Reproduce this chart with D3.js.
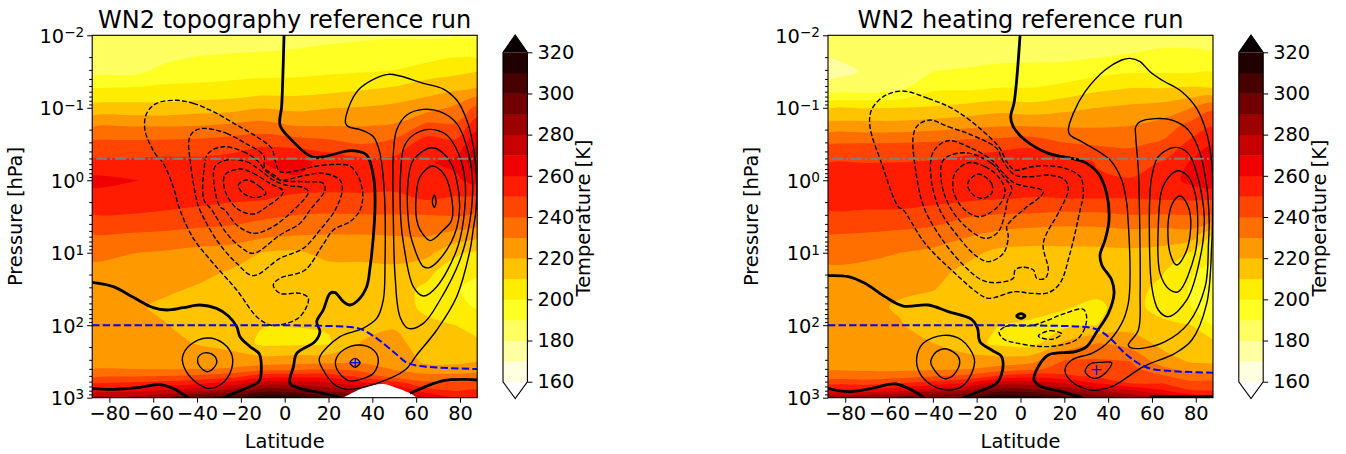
<!DOCTYPE html>
<html>
<head>
<meta charset="utf-8">
<script src="https://d3js.org/d3.v7.min.js"></script>
<style>
  body { margin: 0; background: #fff; }
  text { font-family: "DejaVu Sans", sans-serif; fill: #000; }
</style>
</head>
<body>
<svg width="1346" height="454"></svg>
<script>
// grid the temperature was read on
var latGrid = [-88, -70, -55, -40, -25, -10, 5, 20, 35, 50, 65, 78, 88];
var logpGrid = [-2, -1.75, -1.5, -1.25, -1, -0.75, -0.5, -0.25, 0, 0.25, 0.5, 0.75, 1, 1.25, 1.5, 1.75, 2, 2.25, 2.5, 2.6, 2.7, 2.8, 2.9, 3];

// temperature [K], one row per latitude, bottom of the list = 1000 hPa
var tempTopo = [
  [182,184,186,201.5,213,229,243,252,263,256,249,239.5,232,228,226,225,225,226,228,229.5,237,250,264,283],
  [182.5,184,187,202,213.5,229.5,243,252,260.5,255.5,249,239,230.3,226,223,222,222,223,226,229.5,239,251.7,267,283],
  [183,186,193,203,213,229.5,243.5,253,258,254,248,238,229,225.5,221.8,218,220.6,223.5,227,229,240,253.5,270.8,288],
  [184,189,195,203,215,230,244,252.5,257,252.5,247,236,227,223,219,216,216,219.5,226,229.5,241.7,258,276,302],
  [185,190,196,204,216,232,245.7,254,257,251.5,245,235,226,219.5,216,214,214,216,226,230.7,245.3,263.8,283,305],
  [186,190.5,197,205.5,219.5,234,248,260,259,251,241.6,232.7,219.5,217,215,213,210.4,208,225,235,254.6,275,296,316],
  [186,191.3,197,206,217.5,230,246,262.5,259,247,239.4,230.6,218.5,216,214.5,212.5,210.3,208,226.5,236,256,275,294,314],
  [187,193,198.5,207.5,219.5,230,243.5,257.5,256,247,238.6,230,222.7,217,214.5,212.5,211,209,226.7,238.5,255.3,271.7,287,304],
  [188,194,199.5,209.5,220.5,229.7,240,253.5,253.5,248.5,238.8,230,223,217,215,214,216,220.5,228,236,246,263,281,300],
  [189,194.5,200.5,212,222.5,231,244,253,253.5,248,239,230.5,223.5,218,214,214,219,223,227,229,235,255,272,290],
  [188.5,195,205,216.5,225.5,243,255,259,258,251,239,231,222.8,213,208,208,212,215,218,223,233,242,254,271],
  [190,198,207.5,219,232,241.5,253,262.5,258,249,240,227,212,204,200.5,203,210,214,218,223,233,242,249,260],
  [188,196,210,221,242.7,256.6,269,277,264.5,246.7,238,224,207.7,201,198,199,206,212,220,226,233,242,252,259]
];

var tempHeat = [
  [183,181,176.5,184,209,223.5,240.3,249.5,257.7,254,248,240,233.5,228,225.5,224.5,224,225,226.5,228.5,234,246.5,261,286],
  [184,184,181,186,209.5,224,240.7,249.7,257,254,247.5,239,232.5,227,224.5,223,223,224,226,228,234,246.7,263,291],
  [184.5,185,184,188.5,210,224,241,250,256,253,248,237,230,225.5,222,218.5,221,223,226,227.5,235.5,250,268,294],
  [184.5,186.5,190,199,211,225.5,242,251,256,252.5,246,235,228,223,220.5,215,214,220,226.5,228,239,255,276,301],
  [185,186.5,191,199.5,213,227.5,244.5,253,256,252,240.6,231.5,223,218,215.5,213,212,214,225,229,242,260,281,303],
  [185.5,187.5,192,201,216,229.5,245,257.5,257,250.5,238.5,227.5,217.5,214.5,213,212,210,208,225,233,251,275,296,318],
  [186,187.5,192.5,201,214,229.5,247,260,256,249.5,238,225,217,215,213.5,212,209,206,227.5,237,256,275.5,294,315],
  [185,187,193.5,204,217,229,241,254.5,255,250,236.5,224.5,217.5,215,213,210.5,207.5,221.5,241,245,251.5,270,287,304],
  [186,188,196.5,208.5,220,229,239,249.5,251,250,237,225,217.5,215,212,208.5,210,230,241.5,245,248,260,279,297],
  [187,190,199,211,222,230,238,247,250.5,250,239,226,218,215.5,214,213.5,216,226,240,243,246.5,250,271,289],
  [187.5,191,199,211,224,234,242,250.5,255,251,238.5,225,217,211,207,206,212.5,217,225,232.5,241,250,261,281],
  [187.5,191,199,212,230,244,253,261,263,251.5,239,226,209,201,199,200,210,216,219,225,234,243,250.5,268],
  [187,190.5,199.5,211,238,249.5,259.5,269.5,267,251,238,209.5,203,197,191,189,199,213,218.5,223,233,243.5,250,264]
];

// colour bar
var levels = [160,170,180,190,200,210,220,230,240,250,260,270,280,290,300,310,320];
var levelTicks = [160,180,200,220,240,260,280,300,320];
var bandColors = ["#ffffe0","#ffffa1","#ffff62","#ffff23","#ffed00","#ffc300","#ff9900","#ff6f00","#ff4500","#ff1c00","#f10000","#c70000","#9d0000","#730000","#490000","#200000"];
var underColor = "#ffffff";
var overColor = "#0b0000";

var latTicks = [-80,-60,-40,-20,0,20,40,60,80];
var pressureDecades = [-2,-1,0,1,2,3];

// surface pressure mask of the topography run: latitude, log10 hPa
var topoLat = [26.8, 34.4, 40.5, 45, 49.6, 57.2, 60.2];
var topoLogp = [3, 2.885, 2.825, 2.811, 2.848, 2.94, 3];

// streamfunction contours, [lat, log10 p]
var zeroTopo = [
  [[-0.3,-2],[-0.9,-1.383],[-1.4,-1.015],[-2.15,-0.762],[2.4,-0.578],[12.3,-0.325],[17.6,-0.325],[30.6,-0.408],[37.4,-0.348],[40.5,-0.049],[41.2,0.181],[41,0.549],[39,1.192],[37.4,1.468],[33.6,1.652],[29.8,1.721],[26.8,1.675],[23,1.551],[20.7,1.56],[17.6,1.79],[14.6,1.951],[16.1,2.089],[13.8,2.227],[5.5,2.388],[4,2.572],[2.4,2.802],[7,2.871],[16.1,2.931],[26,3]],
  [[-87.9,1.408],[-78.25,1.468],[-69.1,1.615],[-60,1.758],[-53.9,1.79],[-46.3,1.758],[-38.7,1.721],[-31.1,1.767],[-25.7,1.873],[-21.9,2.02],[-20.4,2.158],[-15.8,2.296],[-11.6,2.397],[-11.3,2.756],[-12.8,2.802],[-18.9,2.885],[-28,3]],
  [[-87.9,2.871],[-78.25,2.885],[-66.1,2.857],[-57,2.82],[-50.9,2.871],[-44.8,2.986],[-44,3]],
  [[57.2,2.94],[72.4,2.765],[83.1,2.747],[87.9,2.756]]
];

var posTopo = [
  [[27.8,-0.785],[29.05,-0.992],[33.6,-1.245],[40.5,-1.392],[47.3,-1.461],[52.6,-1.438],[63.3,-1.337],[72.4,-1.259],[78.5,-1.107],[83.1,-0.831],[86.1,-0.463],[87.6,-0.003],[87.3,0.41],[86,0.686],[84.6,0.962],[78.5,1.606],[69.4,2.066],[60.25,2.411],[54.9,2.618],[42,2.802],[28.3,2.885],[23,2.825],[17.6,2.618],[15.8,2.457],[25.25,2.158],[35.1,2.052],[42,1.905],[45,1.652],[45.8,1.1],[45.8,0.41],[45.3,0.089],[43.5,-0.371],[40.5,-0.601],[35.1,-0.693],[29.05,-0.739]],
  [[63.3,-0.978],[70.9,-0.946],[78.5,-0.785],[83.1,-0.463],[85.7,-0.003],[84.6,0.548],[80,1.1],[70.9,1.652],[63.3,1.974],[56.4,2.043],[52.6,1.882],[50.4,1.33],[49.6,0.548],[49.6,-0.371],[51.1,-0.693],[55.7,-0.9]],
  [[66.3,-0.702],[73.95,-0.624],[79.3,-0.371],[82.3,-0.003],[81.6,0.548],[78.5,0.962],[69.4,1.468],[63.3,1.597],[58.7,1.468],[54.2,0.87],[53,0.548],[53,-0.141],[54.5,-0.463],[58.7,-0.624]],
  [[67.1,-0.449],[73.95,-0.325],[78.5,-0.003],[79.3,0.549],[73.95,0.962],[66.3,1.201],[63.3,1.192],[58,0.824],[56.4,0.548],[56.4,-0.003],[58.7,-0.279]],
  [[67.4,-0.196],[72.4,-0.095],[75.5,0.135],[76.2,0.549],[72.4,0.686],[66.3,0.833],[61.8,0.686],[60.25,0.548],[60,0.227],[61.8,-0.049]],
  [[68.3,0.204],[69.1,0.296],[68.3,0.374],[67.4,0.296]],
  [[-35.3,2.176],[-28,2.25],[-23.9,2.434],[-25,2.664],[-29.5,2.825],[-34.9,2.871],[-41.7,2.756],[-46,2.572],[-46.6,2.434],[-43.2,2.273]],
  [[-35.6,2.379],[-31.8,2.434],[-31.1,2.526],[-34.9,2.641],[-38.7,2.572],[-39.8,2.48],[-38.7,2.411]],
  [[34.4,2.273],[40.5,2.342],[42.75,2.48],[40.5,2.664],[33.6,2.756],[29.05,2.765],[24,2.618],[23.3,2.48],[26.8,2.342]],
  [[32.1,2.457],[34.4,2.517],[32.1,2.581],[29.8,2.517]]
];

var negTopo = [
  [[-49.3,-1.103],[-41.7,-1.061],[-32.6,-0.946],[-21.9,-0.762],[-12.8,-0.601],[-5.96,-0.44],[-4.4,-0.279],[-2.15,-0.118],[5.5,-0.132],[13.07,-0.187],[23.7,-0.219],[29.8,-0.196],[33.6,-0.049],[35.6,0.181],[34.4,0.411],[29.8,0.571],[22.2,0.686],[16.9,0.916],[9.3,1.238],[-2.15,1.353],[-5.2,1.445],[-2.15,1.56],[7,1.56],[10.8,1.629],[7,1.882],[-2.15,1.997],[-6.7,1.997],[-12.8,1.882],[-21.9,1.514],[-32.6,1.146],[-41.7,0.801],[-47.8,0.41],[-50.9,0.089],[-55.4,-0.233],[-59.2,-0.371],[-63.8,-0.693],[-63,-0.923],[-58.5,-1.061]],
  [[-37.2,-0.716],[-26.5,-0.647],[-17.4,-0.5],[-9.8,-0.348],[-9,-0.164],[-3.7,-0.049],[-2.15,0],[8.5,-0.063],[17.6,-0.095],[25.25,-0.003],[26.3,0.135],[23,0.411],[16.1,0.686],[8.5,0.939],[-2.15,1.077],[-14.3,1.316],[-21.9,1.146],[-31.1,0.824],[-38.7,0.41],[-40.2,0.272],[-43.2,-0.279],[-43.7,-0.555],[-41.7,-0.67]],
  [[-28,-0.463],[-18.9,-0.394],[-12.8,-0.279],[-8.2,-0.118],[-2.15,-0.003],[8.5,0.02],[17.6,0.043],[18.4,0.135],[11.55,0.411],[7,0.594],[-2.15,0.755],[-14.3,1.008],[-20.4,0.916],[-26.5,0.732],[-33.3,0.41],[-36.85,0.272],[-36.85,-0.141],[-34.9,-0.371]],
  [[-26.5,-0.279],[-17.4,-0.256],[-11.3,-0.141],[-5.2,-0.003],[2.4,0.08],[7,0.089],[10.8,0.158],[2.4,0.457],[-6.7,0.663],[-14.3,0.732],[-21.9,0.617],[-27.3,0.41],[-29.5,0.365],[-32.1,0.089],[-31.8,-0.187]],
  [[-20.4,-0.155],[-14.3,-0.095],[-6.7,0.043],[-0.6,0.158],[-8.2,0.365],[-14.3,0.466],[-21.9,0.388],[-27.3,0.135],[-27.3,-0.072]],
  [[-17.4,-0.003],[-11.3,0.089],[-8.6,0.181],[-12.8,0.24],[-18.9,0.181],[-21.2,0.066]]
];

var zeroHeat = [
  [[-0.2,-2],[-1.75,-1.383],[-2.97,-1.061],[-4.5,-0.877],[-3.3,-0.739],[2.06,-0.555],[12.7,-0.371],[23.4,-0.302],[30.2,-0.233],[35.5,-0.095],[39.3,0.181],[40.4,0.549],[38.6,0.824],[36.3,1.031],[37.1,1.169],[41.6,1.376],[42.7,1.56],[40.1,1.836],[34.8,2.089],[30.2,2.296],[24.9,2.365],[12.7,2.411],[8.1,2.572],[6.2,2.756],[9.7,2.848],[18.8,2.917],[27.9,3]],
  [[-87.9,1.316],[-78.6,1.33],[-71,1.422],[-61.9,1.606],[-53.5,1.735],[-42.1,1.721],[-33,1.813],[-22.3,1.919],[-19.6,2.043],[-18.5,2.227],[-13.2,2.342],[-8.6,2.434],[-8.2,2.618],[-10.9,2.802],[-19.3,2.917],[-26.1,3]],
  [[-87.9,2.871],[-78.6,2.917],[-68,2.871],[-57.3,2.811],[-51.2,2.871],[-44.4,2.986]],
  [[59.1,2.986],[87.9,2.986]]
];
var zeroLoopHeat = [[-1.75,1.873],[0.23,1.84],[2.06,1.873],[0.23,1.905]];

var posHeat = [
  [[21.85,-0.693],[24.1,-0.923],[29.5,-1.222],[38.6,-1.521],[46.2,-1.659],[50,-1.682],[54.6,-1.636],[59.1,-1.498],[64.5,-1.383],[73.6,-1.222],[80.4,-0.992],[85,-0.647],[87.3,-0.233],[87.7,0.41],[87.3,0.87],[85,1.698],[78.2,2.204],[70.5,2.388],[56.1,2.572],[41.6,2.848],[32.5,2.894],[23.4,2.779],[20.3,2.618],[23.4,2.48],[32.5,2.388],[38.6,2.273],[46.2,1.974],[49.2,1.698],[50,1.33],[48.8,0.41],[48.5,0.319],[46.2,-0.003],[40.9,-0.279],[27.9,-0.532],[22.6,-0.624]],
  [[52.6,-0.739],[54.6,-0.808],[61.4,-0.85],[69,-0.831],[76.6,-0.693],[82,-0.371],[85,0.089],[86.1,0.549],[85.8,0.87],[84.3,1.468],[76.6,1.974],[66,2.227],[55.3,2.319],[50,2.305],[49.2,2.273],[53.8,2.066],[54.6,1.56],[54.3,0.41],[53.8,-0.141],[52.6,-0.601]],
  [[70.5,-0.454],[76.6,-0.371],[80.9,-0.049],[83.5,0.365],[83.9,0.548],[82.7,0.962],[75.9,1.652],[67.5,1.882],[62.9,1.79],[59.9,1.468],[58.8,0.548],[59.1,0.181],[59.9,-0.049],[62.9,-0.325]],
  [[71.8,-0.132],[76.6,-0.049],[79.7,0.181],[80.9,0.549],[79.7,1.008],[72.1,1.537],[68.3,1.514],[63.7,1.284],[63,0.548],[64.5,0.135],[67.8,-0.049]],
  [[72.8,0.218],[75.9,0.319],[77.7,0.549],[75.9,0.962],[71.3,1.169],[68.3,1.008],[67.5,0.548],[69.8,0.296]],
  [[-35.2,2.14],[-26.9,2.204],[-21.1,2.457],[-22.3,2.664],[-26.9,2.848],[-33,2.894],[-40.6,2.825],[-45.9,2.664],[-47.4,2.457],[-44.4,2.25]],
  [[-33.7,2.328],[-28.4,2.434],[-27.9,2.549],[-31.4,2.71],[-35.2,2.733],[-39.8,2.595],[-41,2.503],[-38.3,2.365]],
  [[41.6,2.517],[38.6,2.664],[33.3,2.733],[29.5,2.641],[31.7,2.535],[37,2.512]]
];

var negHeat = [
  [[-54.3,-1.231],[-42.1,-1.13],[-29.9,-0.969],[-17.7,-0.693],[-9.4,-0.44],[-6.3,-0.256],[-2.5,-0.141],[5.1,-0.187],[12.7,-0.201],[20.3,-0.164],[27.2,-0.049],[28.7,0.181],[27.2,0.411],[22.6,1.008],[18,1.422],[12.7,1.551],[5.1,1.56],[-2.5,1.537],[-14.7,1.629],[-19.3,1.56],[-29.9,1.284],[-43.6,0.87],[-53.5,0.41],[-55.8,0.365],[-63.4,-0.233],[-68.7,-0.739],[-68,-0.969],[-62.6,-1.153]],
  [[-41.3,-0.831],[-33,-0.739],[-22.3,-0.624],[-10.9,-0.44],[-7.8,-0.256],[-2.5,-0.072],[5.1,-0.049],[12.7,-0.072],[20.3,-0.003],[21.8,0.135],[18,0.411],[10.4,0.87],[12.7,1.238],[11.2,1.353],[7.4,1.353],[5.9,1.238],[0.53,1.201],[-2.5,1.238],[-3.3,1.353],[-11.6,1.413],[-17.7,1.376],[-25.3,1.192],[-34.5,0.87],[-43.6,0.41],[-47.4,-0.049],[-48.9,-0.624],[-46.7,-0.762]],
  [[-33,-0.546],[-22.3,-0.44],[-13.2,-0.279],[-7.1,-0.072],[-2.5,0.043],[10.4,0.158],[2.06,0.388],[-4,0.548],[-6.3,0.64],[-5.6,0.778],[-7.8,1.008],[-14.7,1.123],[-20.8,1.031],[-28.4,0.778],[-36.8,0.41],[-40.9,-0.049],[-39.8,-0.394]],
  [[-25.3,-0.38],[-13.2,-0.233],[-7.8,-0.049],[-4,0.112],[-5.9,0.273],[-7.1,0.456],[-10.1,0.709],[-15.5,0.801],[-22.3,0.709],[-31.4,0.41],[-36,0.043],[-35.2,-0.279]],
  [[-23.8,-0.242],[-16.2,-0.187],[-10.1,-0.049],[-7.1,0.135],[-8.6,0.296],[-13.2,0.434],[-19.3,0.503],[-26.9,0.365],[-30.7,0.135],[-29.9,-0.095]],
  [[-19.3,-0.086],[-13.2,0.043],[-13.2,0.181],[-17.7,0.25],[-22.3,0.181],[-24.1,0.043]],
  [[-9.8,2.103],[-7,2.02],[5.1,2.006],[12.7,1.928],[20.3,1.836],[28.7,1.781],[30.2,1.928],[26.4,2.181],[15.8,2.287],[6.6,2.287],[-2.5,2.241],[-7,2.204]],
  [[8.1,2.149],[13.5,2.075],[18.8,2.121],[14.2,2.195]]
];

// tropopause (blue dashed)
var tropTopo = [[-87.9,2],[-40,2],[0,2],[13.07,2.006],[28.3,2.02],[35.1,2.057],[42,2.181],[49.6,2.365],[56.4,2.526],[64.8,2.572],[87.9,2.604]];
var tropHeat = [[-87.9,2],[-40,2],[0,2],[12.7,2.006],[27.9,2.02],[34.8,2.057],[40.1,2.158],[47.7,2.388],[56.1,2.563],[63,2.618],[87.9,2.655]];

var stratopauseLogp = -0.298;

var svg = d3.select("svg");
var xDomain = [-87.86, 87.86],
    plotWidth = 385,
    plotTop = 35.3,
    plotBottom = 397.7;

var y = d3.scaleLog().domain([1e-2, 1e3]).range([plotTop, plotBottom]);

function panel(left, id, opts) {
  var x = d3.scaleLinear().domain(xDomain).range([left, left + plotWidth]);
  var px = function(d) { return x(d[0]); },
      py = function(d) { return y(Math.pow(10, d[1])); };

  var g = svg.append("g");

  g.append("clipPath").attr("id", id)
    .append("rect")
      .attr("x", left).attr("y", plotTop)
      .attr("width", plotWidth).attr("height", plotBottom - plotTop);

  var plot = g.append("g").attr("clip-path", "url(#" + id + ")");

  // filled temperature, lowest band first and the warmer ones on top
  var n = latGrid.length, m = logpGrid.length, values = [];
  for (var j = 0; j < m; j++) {
    for (var i = 0; i < n; i++) values.push(opts.temp[i][j]);
  }
  var latOf = d3.scaleLinear().domain(d3.range(n)).range(latGrid),
      logpOf = d3.scaleLinear().domain(d3.range(m)).range(logpGrid);

  var ring = d3.line().curve(d3.curveCatmullRomClosed.alpha(0.5));
  var contours = d3.contours().size([n, m]).thresholds(levels)(values);

  plot.append("rect")
      .attr("x", left).attr("y", plotTop)
      .attr("width", plotWidth).attr("height", plotBottom - plotTop)
      .attr("fill", underColor);

  plot.selectAll(".band")
      .data(contours)
    .enter().append("path")
      .attr("class", "band")
      .attr("fill", function(d, k) { return k < bandColors.length ? bandColors[k] : overColor; })
      .attr("fill-rule", "evenodd")
      .attr("d", function(d) {
        var s = "";
        d.coordinates.forEach(function(polygon) {
          polygon.forEach(function(r) {
            s += ring(r.slice(0, -1).map(function(p) {
              return [x(latOf(p[0] - 0.5)), y(Math.pow(10, logpOf(p[1] - 0.5)))];
            }));
          });
        });
        return s;
      });

  // white where the topography cuts the pressure levels
  if (opts.topo) {
    plot.append("path")
        .datum(topoLat)
        .attr("fill", "#fff")
        .attr("d", d3.area()
          .curve(d3.curveCatmullRom)
          .x(function(d) { return x(d); })
          .y0(y(1e3) + 1)
          .y1(function(d, k) { return y(Math.pow(10, topoLogp[k])); }));
  }

  var open = d3.line().x(px).y(py).curve(d3.curveCatmullRom.alpha(0.5)),
      closed = d3.line().x(px).y(py).curve(d3.curveCatmullRomClosed.alpha(0.5));

  function lines(data, gen, width, dash) {
    plot.append("g").selectAll("path")
        .data(data)
      .enter().append("path")
        .attr("fill", "none")
        .attr("stroke", "#000")
        .attr("stroke-width", width)
        .attr("stroke-dasharray", dash)
        .attr("d", gen);
  }

  lines(opts.neg, closed, 1.4, "5,2.2");
  lines(opts.pos, closed, 1.4, null);
  lines(opts.zero, open, 2.8, null);
  if (opts.zeroLoop) lines([opts.zeroLoop], closed, 2.8, null);

  // stratopause and tropopause
  plot.append("line")
      .attr("x1", left).attr("x2", left + plotWidth)
      .attr("y1", y(Math.pow(10, stratopauseLogp))).attr("y2", y(Math.pow(10, stratopauseLogp)))
      .attr("stroke", "#808080")
      .attr("stroke-width", 2)
      .attr("stroke-dasharray", "11,3,2,3")
      .attr("stroke-dashoffset", -4);

  plot.append("path")
      .attr("fill", "none")
      .attr("stroke", "#0000ff")
      .attr("stroke-width", 2)
      .attr("stroke-dasharray", "7.4,3.2")
      .attr("d", d3.line().x(px).y(py).curve(d3.curveMonotoneX)(opts.trop));

  // surface cyclone centre
  g.append("text")
      .attr("x", x(opts.plus[0]))
      .attr("y", py(opts.plus))
      .attr("dy", "0.36em")
      .attr("text-anchor", "middle")
      .attr("font-size", 16)
      .style("fill", "#0000ff")
      .text("+");

  // axes
  var xAxis = d3.axisBottom(x)
      .tickValues(latTicks)
      .tickSize(5)
      .tickPadding(4)
      .tickFormat(function(d) { return d < 0 ? "\u2212" + (-d) : d; });

  var gx = g.append("g")
      .attr("transform", "translate(0," + plotBottom + ")")
      .call(xAxis);
  gx.select(".domain").remove();
  gx.selectAll("text").attr("font-size", 19.4).style("font-family", '"DejaVu Sans"');

  var majors = pressureDecades.map(function(d) { return Math.pow(10, d); }),
      minors = [];
  pressureDecades.slice(0, -1).forEach(function(d) {
    [2, 3, 4, 5, 6, 7, 8, 9].forEach(function(k) { minors.push(k * Math.pow(10, d)); });
  });

  var gyMinor = g.append("g")
      .attr("transform", "translate(" + left + ",0)")
      .call(d3.axisLeft(y).tickValues(minors).tickSize(3).tickFormat(""));
  gyMinor.select(".domain").remove();

  var gy = g.append("g")
      .attr("transform", "translate(" + left + ",0)")
      .call(d3.axisLeft(y).tickValues(majors).tickSize(5).tickFormat(""));
  gy.select(".domain").remove();

  gy.selectAll(".tick").each(function(d) {
    var exp = Math.round(Math.log10(d));
    var t = d3.select(this).select("text")
        .attr("x", -8)
        .attr("dy", "0.36em")
        .attr("text-anchor", "end")
        .attr("font-size", 19.4)
        .style("font-family", '"DejaVu Sans"');
    t.append("tspan").text("10");
    t.append("tspan")
        .attr("dy", "-0.42em")
        .attr("font-size", 13.6)
        .text(exp < 0 ? "\u2212" + (-exp) : exp);
  });

  g.append("rect")
      .attr("x", left).attr("y", plotTop)
      .attr("width", plotWidth).attr("height", plotBottom - plotTop)
      .attr("fill", "none")
      .attr("stroke", "#000")
      .attr("stroke-width", 1.1);

  g.append("text")
      .attr("x", left + plotWidth / 2)
      .attr("y", 27.5)
      .attr("text-anchor", "middle")
      .attr("font-size", 24)
      .text(opts.title);

  g.append("text")
      .attr("x", left + plotWidth / 2)
      .attr("y", 448)
      .attr("text-anchor", "middle")
      .attr("font-size", 19.4)
      .text("Latitude");

  g.append("text")
      .attr("transform", "translate(" + (left - 70) + "," + ((plotTop + plotBottom) / 2) + ") rotate(-90)")
      .attr("text-anchor", "middle")
      .attr("font-size", 19.4)
      .text("Pressure [hPa]");

  // colour bar
  var barLeft = left + 410.8, barWidth = 24.4;
  var c = d3.scaleLinear().domain([160, 320]).range([381.7, 52.3]);
  var bar = g.append("g");

  bar.selectAll("rect")
      .data(bandColors)
    .enter().append("rect")
      .attr("x", barLeft)
      .attr("y", function(d, k) { return c(levels[k + 1]); })
      .attr("width", barWidth)
      .attr("height", function(d, k) { return c(levels[k]) - c(levels[k + 1]) + 0.4; })
      .attr("fill", function(d) { return d; });

  bar.append("path")
      .attr("fill", overColor)
      .attr("d", d3.line()([[barLeft, c(320)], [barLeft + barWidth / 2, 35], [barLeft + barWidth, c(320)]]) + "Z");
  bar.append("path")
      .attr("fill", underColor)
      .attr("d", d3.line()([[barLeft, c(160)], [barLeft + barWidth / 2, 398.5], [barLeft + barWidth, c(160)]]) + "Z");

  bar.append("path")
      .attr("fill", "none")
      .attr("stroke", "#000")
      .attr("stroke-width", 1.1)
      .attr("d", d3.line()([
        [barLeft, c(160)], [barLeft, c(320)], [barLeft + barWidth / 2, 35],
        [barLeft + barWidth, c(320)], [barLeft + barWidth, c(160)], [barLeft + barWidth / 2, 398.5]
      ]) + "Z");

  var gc = g.append("g")
      .attr("transform", "translate(" + (barLeft + barWidth) + ",0)")
      .call(d3.axisRight(c).tickValues(levelTicks).tickSize(5).tickPadding(5));
  gc.select(".domain").remove();
  gc.selectAll("text").attr("font-size", 19.4).style("font-family", '"DejaVu Sans"');

  g.append("text")
      .attr("transform", "translate(" + (barLeft + 87) + ",218) rotate(-90)")
      .attr("text-anchor", "middle")
      .attr("font-size", 19.4)
      .text("Temperature [K]");
}

panel(92.2, "clipTopo", {
  title: "WN2 topography reference run",
  temp: tempTopo, topo: true,
  zero: zeroTopo, pos: posTopo, neg: negTopo,
  trop: tropTopo, plus: [32.1, 2.517]
});

panel(828, "clipHeat", {
  title: "WN2 heating reference run",
  temp: tempHeat, topo: false,
  zero: zeroHeat, zeroLoop: zeroLoopHeat, pos: posHeat, neg: negHeat,
  trop: tropHeat, plus: [34.5, 2.609]
});
</script>
</body>
</html>
